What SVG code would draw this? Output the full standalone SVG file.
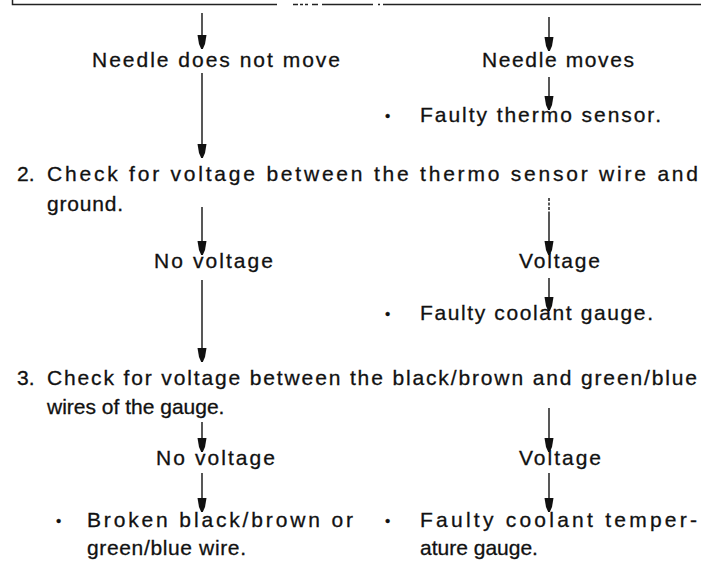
<svg xmlns="http://www.w3.org/2000/svg" width="701" height="562" viewBox="0 0 701 562">
<style>
text{font-family:"Liberation Sans",Arial,sans-serif;font-size:21px;fill:#111;stroke:#111;stroke-width:0.3}
.b{font-size:15px}
.c line{stroke:#111;stroke-width:1.4}
.a{marker-end:url(#ah)}
.r{stroke:#222;stroke-width:1.5;fill:none}
</style>
<defs>
<marker id="ah" markerUnits="userSpaceOnUse" orient="auto" markerWidth="16" markerHeight="10" refX="0" refY="0" overflow="visible">
<path d="M-14,-4.5 L-14,4.5 L-5,3 L0,0.8 L0,-0.8 L-5,-3 Z" fill="#111"/>
</marker>
</defs>
<g id="frame">
<path class="r" d="M12.5,0 V4.5 H277"/>
<path class="r" d="M383,4.5 H701"/>
<path class="r" stroke-width="1" d="M293,4.5 h5 M300,4.5 h3 M305,4.5 h3 M312,4.5 h6 M322,4.5 h51 M378,4.5 h2"/>
</g>
<g class="c" id="connectors">
<line class="a" x1="202" y1="13" x2="202" y2="49"/>
<line class="a" x1="549" y1="17" x2="549" y2="51"/>
<line class="a" x1="549" y1="77" x2="549" y2="110"/>
<line class="a" x1="202" y1="73" x2="202" y2="158"/>
<line class="a" x1="202" y1="207" x2="202" y2="255"/>
<line x1="549" y1="198" x2="549" y2="213" stroke-dasharray="3 1.5"/>
<line class="a" x1="549" y1="213" x2="549" y2="255"/>
<line class="a" x1="549" y1="278" x2="549" y2="311"/>
<line class="a" x1="202" y1="280" x2="202" y2="362"/>
<line class="a" x1="202" y1="422" x2="202" y2="452"/>
<line class="a" x1="549" y1="408" x2="549" y2="452"/>
<line class="a" x1="202" y1="473" x2="202" y2="512"/>
<line class="a" x1="549" y1="473" x2="549" y2="512"/>
</g>
<g id="n1"><text x="92" y="67" textLength="248" lengthAdjust="spacing">Needle does not move</text></g>
<g id="n2"><text x="482" y="67" textLength="152" lengthAdjust="spacing">Needle moves</text></g>
<g id="n3"><text class="b" x="385" y="121">•</text><text x="420" y="122" textLength="241" lengthAdjust="spacing">Faulty thermo sensor.</text></g>
<g id="n4">
<text x="17" y="181">2.</text><text x="47" y="181" textLength="651" lengthAdjust="spacing">Check for voltage between the thermo sensor wire and</text>
<text x="47" y="211" textLength="76" lengthAdjust="spacing">ground.</text>
</g>
<g id="n5"><text x="154" y="268" textLength="119" lengthAdjust="spacing">No voltage</text></g>
<g id="n6"><text x="519" y="268" textLength="81" lengthAdjust="spacing">Voltage</text></g>
<g id="n7"><text class="b" x="385" y="319">•</text><text x="420" y="320" textLength="233" lengthAdjust="spacing">Faulty coolant gauge.</text></g>
<g id="n8">
<text x="17" y="385">3.</text><text x="47" y="385" textLength="650" lengthAdjust="spacing">Check for voltage between the black/brown and green/blue</text>
<text x="47" y="414">wires of the gauge.</text>
</g>
<g id="n9"><text x="156" y="465" textLength="119" lengthAdjust="spacing">No voltage</text></g>
<g id="n10"><text x="519" y="465" textLength="82" lengthAdjust="spacing">Voltage</text></g>
<g id="n11">
<text class="b" x="56" y="526">•</text><text x="87" y="527" textLength="266" lengthAdjust="spacing">Broken black/brown or</text>
<text x="87" y="555" textLength="159" lengthAdjust="spacing">green/blue wire.</text>
</g>
<g id="n12">
<text class="b" x="385" y="526">•</text><text x="420" y="527" textLength="277" lengthAdjust="spacing">Faulty coolant temper-</text>
<text x="420" y="555">ature gauge.</text>
</g>
</svg>
